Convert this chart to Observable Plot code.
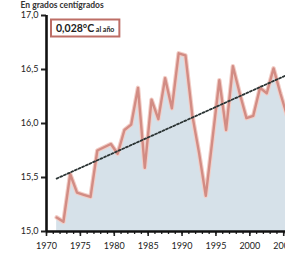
<!DOCTYPE html>
<html><head><meta charset="utf-8">
<script src="https://cdn.jsdelivr.net/npm/d3@7"></script>
<script src="https://cdn.jsdelivr.net/npm/@observablehq/plot@0.6"></script>
<style>
html,body{margin:0;padding:0;background:#fff;overflow:hidden;}
#chart svg{display:block;}
</style></head><body><div id="chart"></div>
<script>
const years = [1971,1972,1973,1974,1975,1976,1977,1978,1979,1980,1981,1982,1983,1984,1985,1986,1987,1988,1989,1990,1991,1992,1993,1994,1995,1996,1997,1998,1999,2000,2001,2002,2003,2004,2005];
const temps = [15.13,15.09,15.53,15.36,15.34,15.32,15.75,15.78,15.81,15.72,15.94,15.99,16.33,15.59,16.22,16.04,16.42,16.14,16.65,16.63,16.08,15.73,15.33,15.86,16.40,15.94,16.53,16.28,16.05,16.07,16.33,16.28,16.51,16.28,16.07];
const trendYears = [1971, 2005];
const trendTemps = [15.49, 16.45];
const yTicks = [15, 15.5, 16, 16.5, 17];
const xMajorTicks = [1970,1975,1980,1985,1990,1995,2000,2005];
const xMinorTicks = d3.range(1970, 2007);
const title = "En grados centígrados";
const noteValue = "0,028°C";
const noteUnit = " al año";

const data = years.map((year, i) => ({year, temp: temps[i]}));
const trend = trendYears.map((year, i) => ({year, temp: trendTemps[i]}));
const mid = d => d.year + 0.5;
const fmt = d => d.toFixed(1).replace(".", ",");

const chart = Plot.plot({
  width: 285, height: 258,
  marginLeft: 46, marginTop: 15, marginBottom: 27, marginRight: 0,
  x: {domain: [1970, 2006], range: [46, 290], axis: null},
  y: {domain: [15, 17], axis: null},
  style: {fontFamily: "Lato, sans-serif", background: "#fff", overflow: "hidden", color: "#222"},
  marks: [
    Plot.areaY(data, {x: mid, y1: 15, y2: "temp", fill: "#d6e1e9"}),
    Plot.lineY(data, {x: mid, y: "temp", stroke: "#f2cdc6", strokeWidth: 4.5}),
    Plot.lineY(data, {x: mid, y: "temp", stroke: "#d28c84", strokeWidth: 2.4}),
    Plot.line(trend, {x: mid, y: "temp", stroke: "#2a3333", strokeWidth: 1.8, strokeDasharray: "2,2"}),
    Plot.axisX({ticks: xMinorTicks, tickSize: 3, strokeWidth: 1.3, tickFormat: () => "", label: null}),
    Plot.axisX({ticks: xMajorTicks, tickSize: 5, strokeWidth: 1.6, tickPadding: 6, fontSize: 9, tickFormat: d => String(d), label: null}),
    Plot.axisY({ticks: yTicks, tickSize: 5, strokeWidth: 2, tickPadding: 3, fontSize: 9, tickFormat: fmt, label: null}),
    Plot.ruleX([1970], {y1: 15, y2: 17, strokeWidth: 2.6, stroke: "#111"}),
    Plot.ruleY([15], {x1: 1970, x2: 2006, strokeWidth: 2.6, stroke: "#111"}),
    Plot.text([title], {frameAnchor: "top-left", dx: -26, dy: -8, lineAnchor: "bottom", textAnchor: "start", fontSize: 8.5, fontWeight: "bold", fill: "#333"})
  ]
});
document.getElementById("chart").append(chart);

// annotation box
const svg = d3.select(chart);
const g = svg.append("g").attr("text-anchor", "start");
const t = g.append("text").attr("x", 56).attr("y", 32).attr("fill", "#222").attr("text-anchor", "start").style("font-family", "Lato, sans-serif");
t.append("tspan").text(noteValue).style("font-size", "10.5px").style("font-weight", "bold");
t.append("tspan").text(noteUnit).style("font-size", "7px").style("font-weight", "bold");
const bb = t.node().getBBox();
g.insert("rect", "text")
  .attr("x", bb.x - 5).attr("y", bb.y - 2.5)
  .attr("width", bb.width + 10).attr("height", bb.height + 5)
  .attr("fill", "#fff").attr("stroke", "#bd6e66").attr("stroke-width", 2);
</script></body></html>
